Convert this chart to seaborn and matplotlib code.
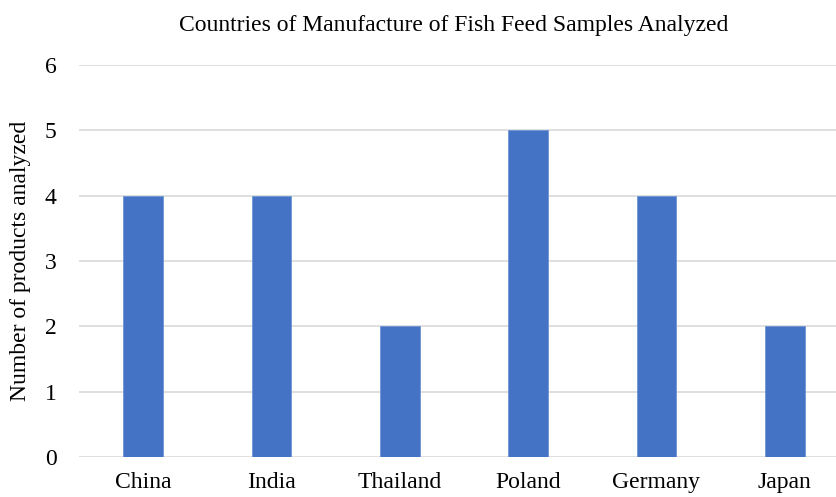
import matplotlib
matplotlib.use("Agg")
import matplotlib.pyplot as plt
import seaborn as sns
import pandas as pd

countries = ["China", "India", "Thailand", "Poland", "Germany", "Japan"]
products = [4, 4, 2, 5, 4, 2]

df = pd.DataFrame({"Country": countries, "Products": products})

sns.set_style("white")
plt.rcParams['font.family'] = ['Liberation Serif', 'DejaVu Serif']
plt.rcParams['text.color'] = 'black'
plt.rcParams['axes.labelcolor'] = 'black'
plt.rcParams['xtick.color'] = 'black'
plt.rcParams['ytick.color'] = 'black'

fig = plt.figure(figsize=(8.37, 4.97), dpi=100)
ax = fig.add_axes([79 / 837, 40 / 497, 770 / 837, 392 / 497])

sns.barplot(data=df, x="Country", y="Products", color="#4472C4", width=0.31,
            saturation=1, edgecolor="#6f93d6", linewidth=0.6, ax=ax, zorder=3)

ax.set_ylim(0, 6)
ax.set_xlim(-0.5, 5.5)
ax.set_yticks(range(0, 7))
ax.yaxis.grid(True, color="#d9d9d9", linewidth=1.2, zorder=0)
ax.set_axisbelow(True)
for s in ax.spines.values():
    s.set_visible(False)
ax.tick_params(axis="both", length=0, labelsize=17)
ax.tick_params(axis="y", pad=16)
ax.tick_params(axis="x", pad=11)
ax.set_xlabel("")
ax.set_ylabel("Number of products analyzed", fontsize=17, labelpad=10)
fig.text(454 / 837, 1 - 25 / 497, "Countries of Manufacture of Fish Feed Samples Analyzed",
         ha="center", va="center", fontsize=17)

fig.savefig("out.png", dpi=100)
